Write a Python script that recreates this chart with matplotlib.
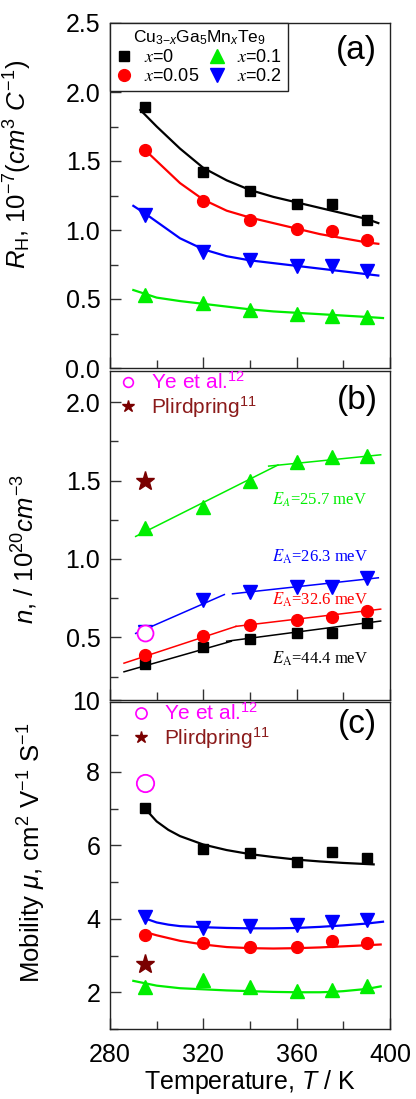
import matplotlib
matplotlib.use("Agg")
import matplotlib.pyplot as plt
from matplotlib.lines import Line2D
from matplotlib.font_manager import FontProperties

plt.rcParams['font.family'] = ['Liberation Sans', 'DejaVu Sans']
plt.rcParams['mathtext.fontset'] = 'custom'
plt.rcParams['mathtext.rm'] = 'Liberation Sans'
plt.rcParams['mathtext.it'] = 'Liberation Sans:italic'
plt.rcParams['mathtext.bf'] = 'Liberation Sans:bold'

# ---------------- data ----------------
T = [295, 320, 340, 360, 375, 390]
labels = ["$x$=0", "$x$=0.05", "$x$=0.1", "$x$=0.2"]
colors = ["black", "red", "#00ee00", "blue"]
markers = ["s", "o", "^", "v"]

# (a) Hall coefficient
RH_x0 = [1.89, 1.42, 1.28, 1.19, 1.19, 1.07]
RH_x005 = [1.58, 1.21, 1.07, 1.01, 0.99, 0.93]
RH_x01 = [0.53, 0.47, 0.42, 0.39, 0.38, 0.37]
RH_x02 = [1.11, 0.84, 0.78, 0.74, 0.74, 0.70]

fitT_a_x0 = [293, 300, 310, 320, 330, 340, 350, 360, 370, 380, 390, 395]
fitRH_x0 = [1.87, 1.75, 1.59, 1.45, 1.36, 1.29, 1.24, 1.20, 1.16, 1.12, 1.08, 1.05]
fitT_a_x005 = [295, 300, 310, 320, 330, 340, 350, 360, 370, 380, 390, 395]
fitRH_x005 = [1.58, 1.50, 1.34, 1.22, 1.14, 1.09, 1.05, 1.01, 0.97, 0.94, 0.91, 0.90]
fitT_a_x01 = [290, 300, 310, 320, 330, 340, 350, 360, 370, 380, 390, 397]
fitRH_x01 = [0.565, 0.51, 0.485, 0.465, 0.445, 0.425, 0.41, 0.40, 0.39, 0.38, 0.37, 0.362]
fitT_a_x02 = [290, 295, 300, 310, 320, 330, 340, 350, 360, 370, 380, 390, 395]
fitRH_x02 = [1.175, 1.12, 1.06, 0.94, 0.86, 0.81, 0.78, 0.76, 0.74, 0.72, 0.70, 0.68, 0.67]

# (b) carrier concentration
n_x0 = [0.33, 0.44, 0.49, 0.525, 0.53, 0.59]
n_x005 = [0.39, 0.51, 0.58, 0.61, 0.63, 0.665]
n_x01 = [1.20, 1.33, 1.50, 1.62, 1.65, 1.66]
n_x02 = [0.535, 0.74, 0.79, 0.82, 0.82, 0.88]
T_lit = [295]
n_ye = [0.525]
n_plird = [1.50]

segT_x0 = [[286, 332], [330, 396]]
segN_x0 = [[0.28, 0.475], [0.475, 0.604]]
segT_x005 = [[286, 334], [334, 396]]
segN_x005 = [[0.335, 0.57], [0.57, 0.68]]
segT_x01 = [[291, 352], [348, 396]]
segN_x01 = [[1.144, 1.60], [1.593, 1.665]]
segT_x02 = [[291, 329], [332.5, 395]]
segN_x02 = [[0.525, 0.773], [0.778, 0.88]]

EA_text = [r"$E_\mathrm{A}$=44.4 meV", r"$E_\mathrm{A}$=32.6 meV",
           r"$E_A$=25.7 meV", r"$E_\mathrm{A}$=26.3 meV"]
EA_T = [349.5, 349.5, 349.5, 349.5]
EA_n = [0.36, 0.74, 1.377, 1.015]

# (c) mobility
mu_x0 = [7.01, 5.90, 5.80, 5.55, 5.83, 5.65]
mu_x005 = [3.55, 3.34, 3.22, 3.22, 3.40, 3.33]
mu_x01 = [2.15, 2.33, 2.15, 2.03, 2.05, 2.16]
mu_x02 = [4.04, 3.76, 3.80, 3.83, 3.92, 3.98]
mu_ye = [7.7]
mu_plird = [2.78]

fitT_c_x0 = [295, 300, 305, 310, 320, 330, 340, 350, 360, 370, 380, 393]
fitMu_x0 = [7.0, 6.65, 6.42, 6.25, 6.02, 5.87, 5.76, 5.68, 5.61, 5.56, 5.52, 5.48]
fitT_c_x005 = [295, 300, 310, 320, 330, 340, 350, 360, 370, 380, 390, 396]
fitMu_x005 = [3.64, 3.55, 3.40, 3.30, 3.23, 3.20, 3.19, 3.20, 3.22, 3.25, 3.28, 3.30]
fitT_c_x01 = [290, 300, 310, 320, 330, 340, 350, 360, 370, 375, 380, 390, 396]
fitMu_x01 = [2.31, 2.18, 2.11, 2.08, 2.05, 2.03, 2.01, 2.00, 2.00, 2.01, 2.03, 2.09, 2.16]
fitT_c_x02 = [295, 300, 305, 310, 320, 330, 340, 350, 360, 370, 380, 390, 397]
fitMu_x02 = [4.01, 3.90, 3.84, 3.80, 3.77, 3.75, 3.74, 3.74, 3.75, 3.78, 3.82, 3.87, 3.92]

xticks = [280, 320, 360, 400]
xminor = [300, 340, 380]

# ---------------- figure ----------------
fig = plt.figure(figsize=(4.16, 10.99), dpi=100)
W, H = 416, 1099
def axrect(l, r, t, b):
    return [l / W, 1 - b / H, (r - l) / W, (b - t) / H]

axA = fig.add_axes(axrect(110, 390, 23, 368))
axB = fig.add_axes(axrect(110, 390, 371, 700))
axC = fig.add_axes(axrect(110, 390, 702, 1029))

ms = {"s": 7.5, "o": 8.5, "^": 9.5, "v": 9.5}
tickfs = 18

def style(ax):
    ax.set_xlim(280, 400)
    ax.set_xticks(xticks)
    ax.set_xticks(xminor, minor=True)
    ax.tick_params(which='both', direction='in', top=False, right=False,
                   labelsize=tickfs, pad=7, color='#333333')
    ax.tick_params(axis='x', pad=10)
    ax.tick_params(which='major', length=8, width=1)
    ax.tick_params(which='minor', length=6, width=1)
    for s in ax.spines.values():
        s.set_linewidth(1.0)
        s.set_color('#222222')

# (a)
seriesA = [RH_x0, RH_x005, RH_x01, RH_x02]
fitsA = [(fitT_a_x0, fitRH_x0), (fitT_a_x005, fitRH_x005),
         (fitT_a_x01, fitRH_x01), (fitT_a_x02, fitRH_x02)]
handles = []
for vals, (ft, fv), c, m, lab in zip(seriesA, fitsA, colors, markers, labels):
    axA.plot(ft, fv, color=c, lw=1.6)
    h, = axA.plot(T, vals, ls='none', marker=m, color=c, ms=ms[m], label=lab)
    handles.append(h)
style(axA)
axA.set_ylim(0, 2.5)
axA.set_yticks([0.0, 0.5, 1.0, 1.5, 2.0, 2.5])
axA.set_yticks([0.25, 0.75, 1.25, 1.75, 2.25], minor=True)
axA.set_yticklabels(["0.0", "0.5", "1.0", "1.5", "2.0", "2.5"])
axA.tick_params(axis='x', labelbottom=False)
axA.set_ylabel(r"$R_\mathrm{H}$, 10$^{-7}$($cm^3$ $C^{-1}$)", fontsize=18.5)
axA.yaxis.set_label_coords(-0.27, 0.59)
axA.text(0.88, 0.92, "(a)", transform=axA.transAxes, fontsize=24,
         ha='center', va='center')
lp = FontProperties(family='Liberation Sans', size=13, math_fontfamily='stix')
tp = FontProperties(family='Liberation Sans', size=12.5)
legA = axA.legend(handles=handles, ncol=2, loc='upper left',
                  bbox_to_anchor=(0, 1), borderaxespad=0, prop=lp,
                  title=r"Cu$_{3\mathrm{-}x}$Ga$_5$Mn$_x$Te$_9$",
                  title_fontproperties=tp, frameon=True, fancybox=False,
                  edgecolor='#222222', framealpha=1, handlelength=0.9,
                  handletextpad=0.7, columnspacing=0.5, labelspacing=0.12,
                  borderpad=0.3)
legA.get_frame().set_linewidth(1.0)

# (b)
seriesB = [n_x0, n_x005, n_x01, n_x02]
segsB = [(segT_x0, segN_x0), (segT_x005, segN_x005),
         (segT_x01, segN_x01), (segT_x02, segN_x02)]
for vals, (st, sn), c, m in zip(seriesB, segsB, colors, markers):
    for tt, nn in zip(st, sn):
        axB.plot(tt, nn, color=c, lw=1.1)
    axB.plot(T, vals, ls='none', marker=m, color=c, ms=ms[m])
axB.plot(T_lit, n_ye, ls='none', marker='o', mfc='white', mec='#ff00ff',
         mew=1.3, ms=11.5, zorder=5)
axB.plot(T_lit, n_plird, ls='none', marker='*', color='#7a0000', ms=14)
for txt, tx, ny, c in zip(EA_text, EA_T, EA_n, colors):
    axB.text(tx, ny, txt, color=c, fontsize=12, ha='left', va='center',
             family='Liberation Serif', math_fontfamily='stix')
style(axB)
axB.set_ylim(0.1, 2.2)
axB.set_yticks([0.1, 0.5, 1.0, 1.5, 2.0])
axB.set_yticklabels(["10", "0.5", "1.0", "1.5", "2.0"])
axB.set_yticks([0.25, 0.75, 1.25, 1.75], minor=True)
axB.tick_params(axis='x', labelbottom=False)
axB.set_ylabel(r"$n$, / 10$^{20}$$cm^{-3}$", fontsize=18.5)
axB.yaxis.set_label_coords(-0.25, 0.46)
axB.text(0.885, 0.91, "(b)", transform=axB.transAxes, fontsize=24,
         ha='center', va='center')

def lit_legend(ax, anchor, ms_c, ms_s):
    hy = Line2D([], [], ls='none', marker='o', mfc='none', mec='#ff00ff',
                color='#ff00ff', mew=1.2, ms=ms_c)
    hp = Line2D([], [], ls='none', marker='*', color='#7a0000', ms=ms_s)
    lg = ax.legend([hy, hp], ["Ye et al.$^{12}$", "Plirdpring$^{11}$"],
                   loc='upper left', bbox_to_anchor=anchor, frameon=False,
                   fontsize=15, handlelength=0.8, handletextpad=0.7,
                   labelspacing=0.05, borderaxespad=0, borderpad=0)
    for t, c in zip(lg.get_texts(), ['#ff00ff', '#8b1a1a']):
        t.set_color(c)
    return lg

lit_legend(axB, (0.035, 1.0), 7, 9)

# (c)
seriesC = [mu_x0, mu_x005, mu_x01, mu_x02]
fitsC = [(fitT_c_x0, fitMu_x0), (fitT_c_x005, fitMu_x005),
         (fitT_c_x01, fitMu_x01), (fitT_c_x02, fitMu_x02)]
for vals, (ft, fv), c, m in zip(seriesC, fitsC, colors, markers):
    axC.plot(ft, fv, color=c, lw=1.6)
    axC.plot(T, vals, ls='none', marker=m, color=c, ms=ms[m])
axC.plot(T_lit, mu_ye, ls='none', marker='o', mfc='white', mec='#ff00ff',
         mew=1.3, ms=12.5, zorder=5)
axC.plot(T_lit, mu_plird, ls='none', marker='*', color='#7a0000', ms=14)
style(axC)
axC.set_ylim(1.0, 9.9)
axC.set_yticks([2, 4, 6, 8])
axC.set_yticks([1, 3, 5, 7, 9], minor=True)
axC.set_ylabel(r"Mobility $\mu$, cm$^2$ V$^{-1}$ S$^{-1}$", fontsize=18.5)
axC.yaxis.set_label_coords(-0.22, 0.54)
axC.set_xlabel(r"Temperature, $T$ / K", fontsize=18, labelpad=1)
axC.text(0.885, 0.93, "(c)", transform=axC.transAxes, fontsize=24,
         ha='center', va='center')
lit_legend(axC, (0.08, 1.0), 8, 9)

fig.savefig("out.png", dpi=100)
